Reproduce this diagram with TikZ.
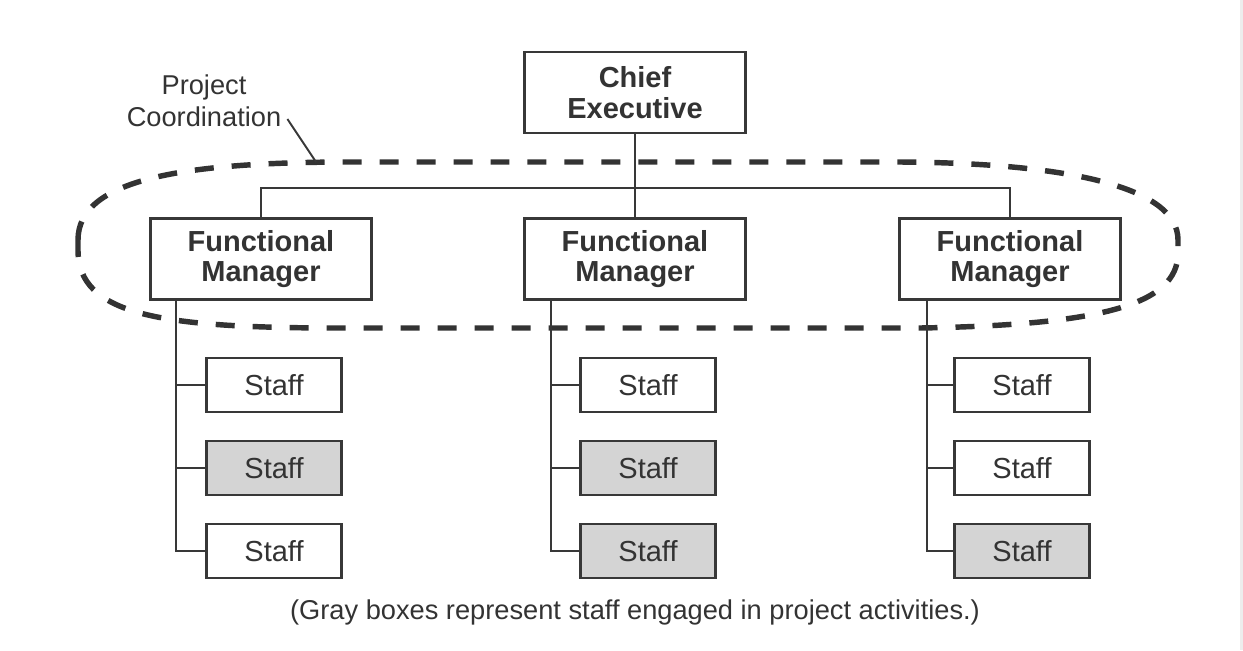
\documentclass[tikz,border=0pt]{standalone}
\usepackage{fontspec}
\setmainfont{Liberation Sans}
\usetikzlibrary{positioning}

\begin{document}
\begin{tikzpicture}[x=0.02cm,y=-0.02cm,
	box/.style={draw=black!78,line width=1.4pt,fill=white,text=black!80,inner sep=0pt,align=center},
	boss/.style={box,minimum width=4.42cm,minimum height=1.62cm,font=\bfseries\fontsize{16.5}{17.5}\selectfont},
	staff/.style={box,minimum width=2.7cm,minimum height=1.08cm,font=\fontsize{16.5}{17.5}\selectfont},
	link/.style={draw=black!78,line width=1.1pt},
	plain/.style={text=black!80,align=center,font=\fontsize{15.5}{18.5}\selectfont}]

\useasboundingbox (0,0) rectangle (1243,650);
\draw[black!7,line width=2pt] (1242,0)--(1242,650);

% dashed ring round the managers
\draw[black!80,line width=3.1pt,dash pattern=on 0.38cm off 0.36cm]
	(78,240) .. controls (78,180) and (180,163) .. (340,162) -- (900,162)
	.. controls (1060,163) and (1178,185) .. (1178,240) -- (1178,253)
	.. controls (1178,305) and (1100,325) .. (920,328) -- (340,328)
	.. controls (160,328) and (78,315) .. (78,250) -- cycle;

\node[boss] (chief) at (635,92.5) {Chief\\Executive};

\foreach[count=\i] \x in {261,635,1010}
	\node[boss] (fm-\i) at (\x,259) {Functional\\Manager};

\draw[link] (chief.south)--(fm-2.north);
\draw[link] (fm-1.north)--++(0,-29)-|(fm-3.north);

\foreach \i/\x/\b/\fa/\fb/\fc in {1/274/176/white/black!17/white,2/648/551/white/black!17/black!17,3/1022/927/white/white/black!17}{
	\coordinate (bus-\i) at (\b,301);
	\foreach[count=\j] \f in {\fa,\fb,\fc}
		\node[staff,fill=\f] (s-\i-\j) at (\x,302+83*\j) {Staff};
	\draw[link] (bus-\i) |- (s-\i-3.west);
	\draw[link] (s-\i-1.west)--(s-\i-1.west -| bus-\i);
	\draw[link] (s-\i-2.west)--(s-\i-2.west -| bus-\i);
}

\node[plain] (pc) at (204,101) {Project\\Coordination};
\coordinate (pc-end) at (316,162);
\draw[link] (pc.east) ++(0,18)--(pc-end);

\node[plain] (note) at (635,612) {(Gray boxes represent staff engaged in project activities.)};
\end{tikzpicture}
\end{document}
